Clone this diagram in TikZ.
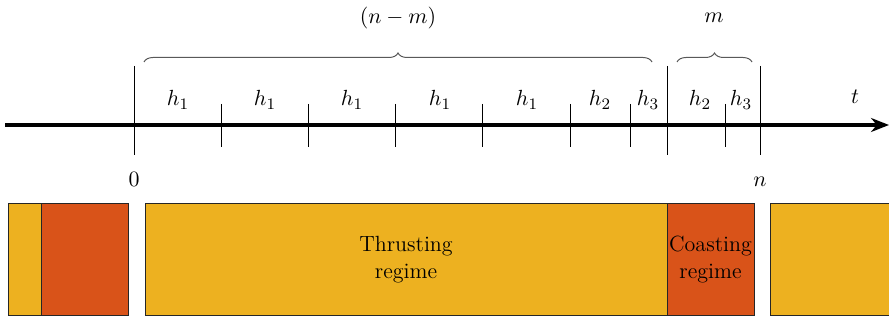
\documentclass[tikz,border=0pt]{standalone}
\usetikzlibrary{decorations.pathreplacing,arrows.meta}
\definecolor{thrust}{HTML}{EDB120}
\definecolor{coast}{HTML}{D95319}
\begin{document}
\begin{tikzpicture}[x=0.5pt,y=-0.5pt,
  every node/.style={font=\fontsize{11}{13.5}\selectfont},
  tick/.style={line width=0.45pt},
  lab/.style={inner sep=0pt},
  bar/.style={draw=black!85, line width=0.5pt},
  br/.style={decorate, decoration={brace, amplitude=4.5pt}, draw=black!65, line width=0.5pt}]
\useasboundingbox (0,0) rectangle (889,320);
% axis
\coordinate (a0) at (5,125);
\coordinate (a1) at (889,125);
\draw[line width=2pt, -{Stealth[length=9pt,width=7pt]}] (a0) -- (a1);
% big ticks
\foreach \x/\n in {134/b0,667/bm,760/bn}{
  \coordinate (\n t) at (\x,66);
  \coordinate (\n b) at (\x,155);
  \draw[tick] (\n t) -- (\n b);
}
% small ticks
\foreach \x [count=\i] in {221,308,395,482,570,630,725}{
  \coordinate (s\i t) at (\x,104);
  \coordinate (s\i b) at (\x,147);
  \draw[tick] (s\i t) -- (s\i b);
}
% labels
\foreach \x [count=\i] in {178,265,352,440,527}{
  \node[lab] (h1\i) at (\x,100) {$h_1$};
}
\node[lab] (h2a) at (600,100) {$h_2$};
\node[lab] (h3a) at (648,100) {$h_3$};
\node[lab] (h2b) at (700,100) {$h_2$};
\node[lab] (h3b) at (741,100) {$h_3$};
\node[lab] (t) at (855,97) {$t$};
\node[lab] (zero) at (134,179) {$0$};
\node[lab] (nn) at (760,182) {$n$};
% braces
\coordinate (b1l) at (144,62);
\coordinate (b1r) at (652,62);
\coordinate (b2l) at (677,62);
\coordinate (b2r) at (752,62);
\draw[br] (b1l) -- (b1r);
\draw[br] (b2l) -- (b2r);
\node[lab] (nm) at (398,18) {$(n-m)$};
\node[lab] (mm) at (714,18) {$m$};
% bars
\fill[thrust] (8,204) rectangle (41,316);
\fill[coast] (41,204) rectangle (128,316);
\draw[bar] (41,204) -- (41,316);
\draw[bar] (8,204) rectangle (128,316);
\fill[thrust] (145,204) rectangle (667,316);
\fill[coast] (667,204) rectangle (754,316);
\draw[bar] (145,204) rectangle (754,316);
\draw[bar] (667,204) -- (667,316);
\fill[thrust] (770,204) rectangle (889,316);
\draw[bar] (889.5,204) -- (770,204) -- (770,316) -- (889.5,316);
\node[align=center] (thr) at (406,260) {Thrusting\\regime};
\node[align=center, inner sep=0pt] (coa) at (710.5,260) {Coasting\\regime};
\end{tikzpicture}
\end{document}
